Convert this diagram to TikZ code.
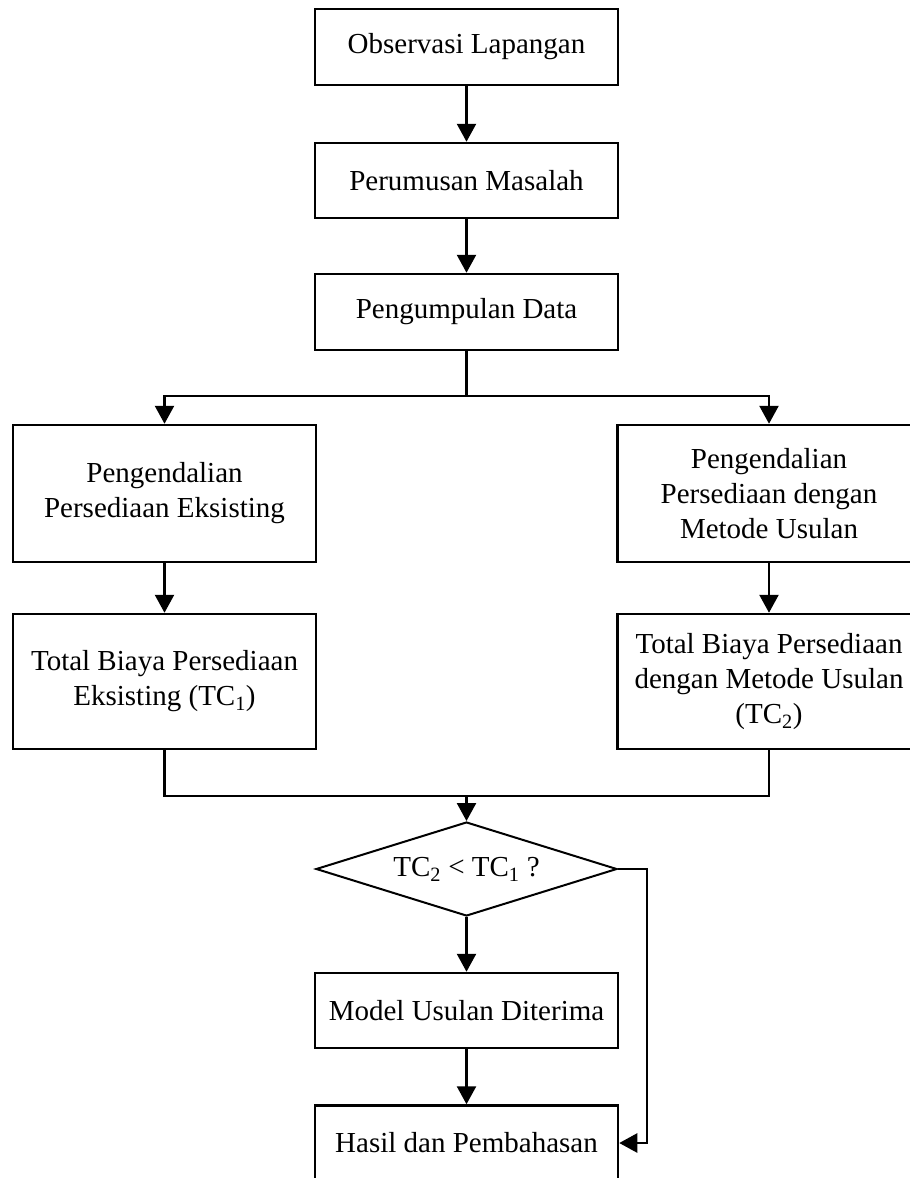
\documentclass[tikz,border=0pt]{standalone}
\usepackage{fontspec}
\setmainfont{Liberation Serif}
\usetikzlibrary{arrows.meta,shapes.geometric}
\tikzset{>/.tip={Triangle[length=18pt,width=19pt]},
  proc/.style={draw, line width=2.5pt, minimum width=303pt, inner sep=0pt, align=center,
    font=\fontsize{29}{35}\selectfont},
  cekbox/.style={draw, diamond, line width=2pt, shape aspect=3.2, minimum width=301pt,
    minimum height=94pt, inner sep=0pt, font=\fontsize{29}{35}\selectfont}}

\begin{document}
\begin{tikzpicture}[x=1pt, y=-1pt, line width=2.5pt]
\useasboundingbox (0,0) rectangle (910,1178);
\node[proc, minimum height=76pt]  (obs)      at (466.5,47)    {Observasi Lapangan};
\node[proc, minimum height=75pt]  (rum)      at (466.5,180.5) {Perumusan Masalah};
\node[proc, minimum height=76pt]  (kumpul)   at (466.5,312)   {Pengumpulan Data};
\node[proc, minimum height=137pt] (kendali1) at (164.5,493.5) {Pengendalian\\Persediaan Eksisting};
\node[proc, minimum height=137pt] (kendali2) at (769,493.5)   {Pengendalian\\Persediaan dengan\\Metode Usulan};
\node[proc, minimum height=135pt] (total1)   at (164.5,681.5) {Total Biaya Persediaan\\Eksisting (TC\textsubscript{1})};
\node[proc, minimum height=135pt] (total2)   at (769,681.5)   {Total Biaya Persediaan\\dengan Metode Usulan\\(TC\textsubscript{2})};
\node[cekbox]                     (cek)      at (466.5,869)   {TC\textsubscript{2} < TC\textsubscript{1} ?};
\node[proc, minimum height=75pt]  (model)    at (466.5,1010.5) {Model Usulan Diterima};
\node[proc, minimum height=75pt]  (hasil)    at (466.5,1143)  {Hasil dan Pembahasan};
\coordinate (pisah)  at (466.5,396);
\coordinate (gabung) at (466.5,796);
\coordinate (belok)  at (647,869);
\foreach \a/\b in {obs/rum, rum/kumpul, kendali1/total1, kendali2/total2, cek/model, model/hasil}
{
  \draw[->] (\a) to (\b);
}
\draw (kumpul) -- (pisah);
\draw[->] (pisah) -| (kendali1);
\draw[->] (pisah) -| (kendali2);
\draw (total1) |- (gabung);
\draw (total2) |- (gabung);
\draw[->] (gabung) -- (cek);
\draw[->] (cek.east) -- (belok) |- (hasil.east);
\end{tikzpicture}
\end{document}
